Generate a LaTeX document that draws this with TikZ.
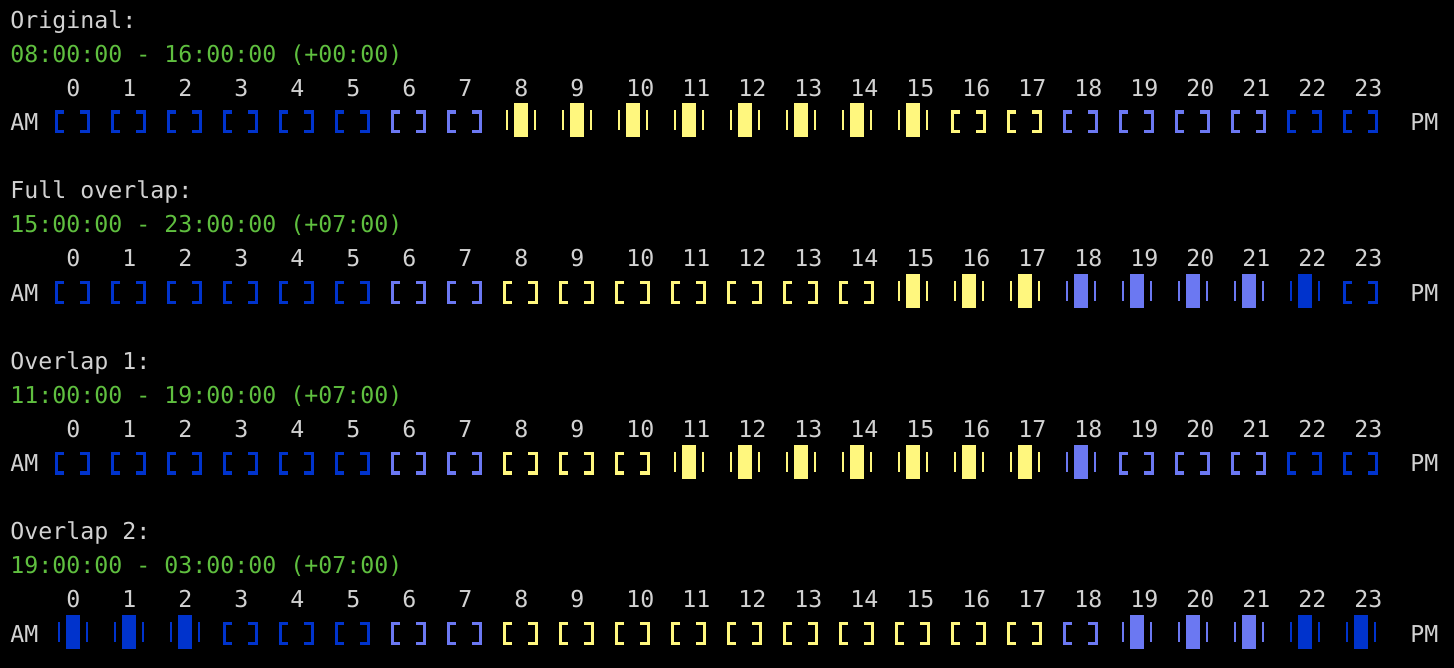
\documentclass[tikz,border=0pt]{standalone}
\usepackage{fontspec}
\newfontfamily\termfont{DejaVu Sans Mono}
\definecolor{termwhite}{HTML}{D2D2D2}
\definecolor{termgreen}{HTML}{5FBF3F}
\definecolor{termdark}{HTML}{0033CC}
\definecolor{termlight}{HTML}{6B78F2}
\definecolor{termyellow}{HTML}{FFF77E}
\newcommand{\slotcolor}[1]{\ifnum#1<6 termdark\else\ifnum#1<8 termlight\else\ifnum#1<18 termyellow\else\ifnum#1<22 termlight\else termdark\fi\fi\fi\fi}
\newcommand{\openslot}[2]{%
  \pgfmathsetmacro\slx{52+56*#2}%
  \edef\sc{\slotcolor{#2}}%
  \draw[\sc, line width=1.7pt] (\slx+12,#1-8.3) -- (\slx+4.7,#1-8.3) -- (\slx+4.7,#1+11.3) -- (\slx+12,#1+11.3);
  \draw[\sc, line width=1.7pt] (\slx+28,#1-8.3) -- (\slx+36.3,#1-8.3) -- (\slx+36.3,#1+11.3) -- (\slx+28,#1+11.3);
}
\newcommand{\fullslot}[2]{%
  \pgfmathsetmacro\slx{52+56*#2}%
  \edef\sc{\slotcolor{#2}}%
  \fill[\sc] (\slx+6,#1-10) rectangle (\slx+8.2,#1+10);
  \fill[\sc] (\slx+14,#1-17) rectangle (\slx+28,#1+17);
  \fill[\sc] (\slx+33.8,#1-10) rectangle (\slx+36,#1+10);
}
\begin{document}
\begin{tikzpicture}[x=0.5pt, y=-0.5pt,
  term/.style={anchor=base west, inner sep=0pt, font=\termfont\fontsize{11.63pt}{14pt}\selectfont}]
\fill[black] (0,0) rectangle (1454,668);
\node[term, termwhite] (title0) at (10,28.2) {Original:};
\node[term, termgreen] (time0) at (10,62.3) {08:00:00 - 16:00:00 (+00:00)};
\node[term, termwhite] (title1) at (10,198.7) {Full overlap:};
\node[term, termgreen] (time1) at (10,232.8) {15:00:00 - 23:00:00 (+07:00)};
\node[term, termwhite] (title2) at (10,369.2) {Overlap 1:};
\node[term, termgreen] (time2) at (10,403.3) {11:00:00 - 19:00:00 (+07:00)};
\node[term, termwhite] (title3) at (10,539.7) {Overlap 2:};
\node[term, termgreen] (time3) at (10,573.8) {19:00:00 - 03:00:00 (+07:00)};
\foreach \r in {0,...,3} {
  \foreach \h in {0,...,23}
    \node[term, termwhite] (hr\r-\h) at (66+56*\h, 96.4+170.5*\r) {\h};
  \node[term, termwhite] (am\r) at (10, 130.5+170.5*\r) {AM};
  \node[term, termwhite] (pm\r) at (1410, 130.5+170.5*\r) {PM};
}
\foreach \h in {0,...,7,16,17,...,23} {\openslot{120.5}{\h}}
\foreach \h in {8,...,15} {\fullslot{120.5}{\h}}
\foreach \h in {0,...,14,23} {\openslot{291}{\h}}
\foreach \h in {15,...,22} {\fullslot{291}{\h}}
\foreach \h in {0,...,10,19,20,...,23} {\openslot{461.5}{\h}}
\foreach \h in {11,...,18} {\fullslot{461.5}{\h}}
\foreach \h in {3,...,18} {\openslot{632}{\h}}
\foreach \h in {0,1,2,19,20,...,23} {\fullslot{632}{\h}}
\end{tikzpicture}
\end{document}
